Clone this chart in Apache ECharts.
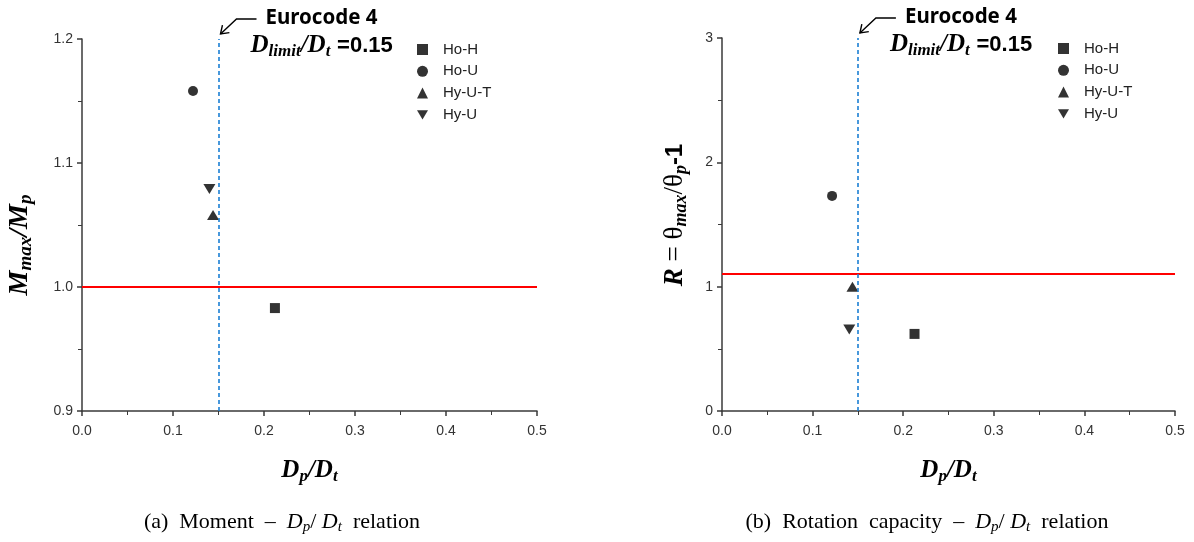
<!DOCTYPE html>
<html><head><meta charset="utf-8">
<script src="https://cdn.jsdelivr.net/npm/echarts@6/dist/echarts.min.js"></script>
<style>html,body{margin:0;padding:0;background:#fff}#c{width:1194px;height:542px}</style>
</head><body><div id="c"></div>
<script>
// ---- data ----
const seriesNames = ['Ho-H', 'Ho-U', 'Hy-U-T', 'Hy-U'];
const dpRatioA = [0.212, 0.122, 0.144, 0.140];       // Dp/Dt, chart (a)
const momentRatio = [0.983, 1.158, 1.058, 1.079];    // Mmax/Mp
const dpRatioB = [0.2125, 0.1215, 0.144, 0.1405];    // Dp/Dt, chart (b)
const rotationR = [0.62, 1.73, 1.0, 0.655];          // R
const momentLimit = 1.0;
const rotationLimit = 1.1;
const dLimit = 0.15;
const xRange = [0, 0.5, 0.1];
const yRangeA = [0.9, 1.2, 0.1];
const yRangeB = [0, 3, 1];

// ---- styles ----
const serif = '"Liberation Serif", "DejaVu Serif", serif';
const sans = '"Liberation Sans", Arial, sans-serif';
const symbols = ['rect', 'circle', 'triangle', 'path://M0,0L12,0L6,10Z'];
const symbolSizes = [[10,10], [10,10], [12,10], [12,10]];
const axisColor = '#3a3a3a';
function mathRich(big, sub) {
  return {
    v: {fontFamily: serif, fontWeight: 'bold', fontStyle: 'italic', fontSize: big, lineHeight: big + 4, color: '#000'},
    s: {fontFamily: serif, fontWeight: 'bold', fontStyle: 'italic', fontSize: sub, lineHeight: sub, verticalAlign: 'bottom', color: '#000'},
    n: {fontFamily: serif, fontSize: big, lineHeight: big + 4, color: '#000'},
    b: {fontFamily: sans, fontWeight: 'bold', fontSize: big - 3, lineHeight: big + 4, color: '#000'}
  };
}

function xAxis(gi) {
  return {
    gridIndex: gi, type: 'value', min: xRange[0], max: xRange[1], interval: xRange[2],
    axisLine: {show: true, onZero: false, lineStyle: {color: axisColor, width: 1.5}},
    axisTick: {show: true, length: 5, lineStyle: {color: axisColor, width: 1.5}},
    minorTick: {show: true, splitNumber: 2, length: 4, lineStyle: {color: axisColor, width: 1}},
    splitLine: {show: false},
    axisLabel: {formatter: v => v.toFixed(1), color: '#333', fontFamily: sans, fontSize: 14, margin: 13},
    name: '{v|D}{s|p}{v|/D}{s|t}', nameLocation: 'middle', nameGap: 45,
    nameTextStyle: {rich: mathRich(25, 17)}
  };
}
function yAxis(gi, r, dec) {
  return {
    gridIndex: gi, type: 'value', min: r[0], max: r[1], interval: r[2],
    axisLine: {show: true, onZero: false, lineStyle: {color: axisColor, width: 1.5}},
    axisTick: {show: true, length: 5, lineStyle: {color: axisColor, width: 1.5}},
    minorTick: {show: true, splitNumber: 2, length: 4, lineStyle: {color: axisColor, width: 1}},
    splitLine: {show: false},
    axisLabel: {formatter: v => v.toFixed(dec), color: '#333', fontFamily: sans, fontSize: 14, margin: 9}
  };
}
function seriesFor(gi, xs, ys, hLimit) {
  return seriesNames.map((n, i) => {
    const s = {
      name: n, type: 'scatter', xAxisIndex: gi, yAxisIndex: gi,
      symbol: symbols[i], symbolSize: symbolSizes[i],
      itemStyle: {color: '#000'},
      data: [[xs[i], ys[i]]]
    };
    if (i === 0) {
      s.markLine = {
        silent: true, symbol: ['none', 'none'], label: {show: false}, animation: false,
        data: [
          {yAxis: hLimit, lineStyle: {color: '#ff0000', width: 2, type: 'solid'}},
          {xAxis: dLimit, lineStyle: {color: '#1b7fd4', width: 1.6, type: [4, 3]}}
        ]
      };
    }
    return s;
  });
}
function legendFor(left, top) {
  return {
    data: seriesNames, left, top, orient: 'vertical',
    itemWidth: 11, itemHeight: 11, itemGap: 6.8, selectedMode: false,
    textStyle: {fontFamily: sans, fontSize: 15, color: '#222', lineHeight: 14, padding: [0, 0, 0, 10]}
  };
}

const chart = echarts.init(document.getElementById('c'));
chart.setOption({
  animation: false,
  grid: [
    {left: 82, right: 1194 - 537, top: 39, bottom: 542 - 411},
    {left: 722, right: 1194 - 1175, top: 38, bottom: 542 - 411}
  ],
  xAxis: [xAxis(0), xAxis(1)],
  yAxis: [yAxis(0, yRangeA, 1), yAxis(1, yRangeB, 0)],
  legend: [legendFor(412, 37), legendFor(1053, 36)],
  series: [...seriesFor(0, dpRatioA, momentRatio, momentLimit), ...seriesFor(1, dpRatioB, rotationR, rotationLimit)]
});

// ---- annotations placed relative to the limit line top ----
function annot(gi, yMax) {
  const p = chart.convertToPixel({gridIndex: gi}, [dLimit, yMax]);
  const tip = [p[0] + 2, p[1] - 5];
  const bend = [p[0] + 18, p[1] - 20];
  const start = [p[0] + 38, p[1] - 20];
  const dx = bend[0] - tip[0], dy = bend[1] - tip[1];
  const L = Math.hypot(dx, dy), ux = dx / L, uy = dy / L;
  const wing = (a) => [tip[0] + 9 * (ux * Math.cos(a) - uy * Math.sin(a)), tip[1] + 9 * (ux * Math.sin(a) + uy * Math.cos(a))];
  return [
    {type: 'polyline', shape: {points: [start, bend, tip]}, style: {stroke: '#000', lineWidth: 1.4, fill: null}},
    {type: 'polyline', shape: {points: [wing(0.6), tip, wing(-0.6)]}, style: {stroke: '#000', lineWidth: 1.4, fill: null}},
    {type: 'text', x: p[0] + 47, y: p[1] - 21, style: {text: 'Eurocode 4', fontFamily: '"Noto Sans", sans-serif', fontWeight: 'bold', fontSize: 20.5, fill: '#000', verticalAlign: 'middle'}},
    {type: 'text', x: p[0] + 32, y: p[1] + 7, style: {text: '{v|D}{s|limit}{v|/D}{s|t}  {b|=0.15}', rich: mathRich(25, 17), verticalAlign: 'middle'}}
  ];
}
const capRich = {
  r: {fontFamily: serif, fontSize: 22, color: '#000', lineHeight: 26},
  i: {fontFamily: serif, fontStyle: 'italic', fontSize: 22, color: '#000', lineHeight: 26},
  is: {fontFamily: serif, fontStyle: 'italic', fontSize: 15, color: '#000', lineHeight: 13, verticalAlign: 'bottom'}
};
chart.setOption({
  graphic: [
    ...annot(0, yRangeA[1]),
    ...annot(1, yRangeB[1]),
    {type: 'text', x: 20, y: 245, rotation: Math.PI / 2,
      style: {text: '{v|M}{s|max}{v|/M}{s|p}', rich: mathRich(28, 19), align: 'center', verticalAlign: 'middle'}},
    {type: 'text', x: 675, y: 215, rotation: Math.PI / 2,
      style: {text: '{v|R}{n| = θ}{s|max}{n|/θ}{s|p}{b|-1}', rich: mathRich(27, 18), align: 'center', verticalAlign: 'middle'}},
    {type: 'text', x: 282, y: 522,
      style: {text: '{r|(a)  Moment  –  }{i|D}{is|p}{r|/ }{i|D}{is|t}{r|  relation}', rich: capRich, align: 'center', verticalAlign: 'middle'}},
    {type: 'text', x: 927, y: 522,
      style: {text: '{r|(b)  Rotation  capacity  –  }{i|D}{is|p}{r|/ }{i|D}{is|t}{r|  relation}', rich: capRich, align: 'center', verticalAlign: 'middle'}}
  ]
});
</script></body></html>
